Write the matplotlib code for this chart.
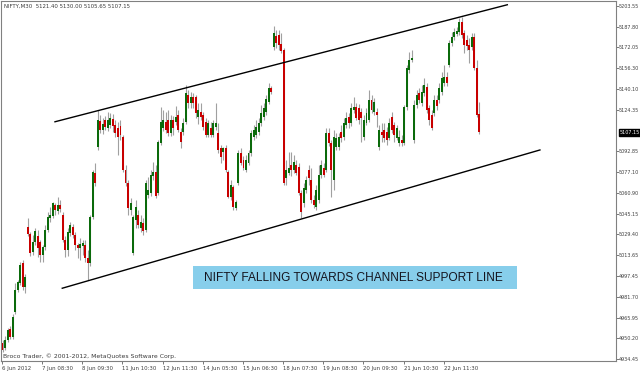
import matplotlib
matplotlib.use("Agg")
import matplotlib.pyplot as plt
from matplotlib.patches import Rectangle

# ---------------- data (NIFTY M30 candles, 6 Jun - 25 Jun 2012) ----------------
opens = [
    4946.7, 4942.8, 4948.9, 4957.3, 4951.2, 4970.3, 4987.1, 4992.4, 5007.6, 4989.3,
    5035.1, 5029.7, 5016.0, 5023.6, 5028.2, 5023.6, 5013.7, 5019.9, 5032.8, 5041.9, 5043.5, 5051.9, 5047.3, 5051.9,
    5044.2, 5025.2, 5017.5, 5030.5, 5035.1, 5029.0, 5021.4, 5019.1, 5020.6, 5021.4, 5011.4, 5007.6, 5042.7, 5076.2,
    5096.1, 5115.9, 5109.0, 5116.6, 5110.5, 5112.8, 5117.4, 5112.8, 5110.5, 5112.1, 5103.7, 5078.5, 5068.6, 5048.0,
    5015.3, 5040.4, 5044.2, 5034.3, 5038.1, 5032.8, 5059.5, 5061.0, 5073.9, 5077.0, 5061.0, 5099.1, 5110.5, 5115.1,
    5116.6, 5106.7, 5116.6, 5115.1, 5120.5, 5107.5, 5107.5, 5115.1, 5135.7, 5129.6, 5134.2, 5134.2, 5118.9, 5122.7,
    5120.5, 5115.1, 5105.2, 5110.5, 5105.2, 5111.3, 5106.7, 5095.3, 5092.2, 5095.3, 5077.0, 5057.9, 5065.6, 5049.6,
    5068.6, 5091.5, 5086.2, 5078.5, 5083.9, 5091.5, 5103.7, 5105.2, 5107.5, 5114.4, 5118.9, 5122.7, 5130.4, 5141.0,
    5172.3, 5180.7, 5181.4, 5174.6, 5170.0, 5072.4, 5076.2, 5082.3, 5078.5, 5082.3, 5080.8, 5061.0, 5053.4, 5063.3,
    5078.5, 5070.9, 5055.7, 5050.3, 5055.7, 5074.7, 5080.0, 5078.5, 5106.7, 5099.1, 5070.9, 5096.1, 5096.1, 5107.5,
    5103.7, 5112.8, 5118.9, 5114.4, 5124.3, 5126.6, 5125.8, 5122.7, 5103.7, 5114.4, 5116.6, 5131.9, 5122.7, 5122.7,
    5096.1, 5107.5, 5109.0, 5107.5, 5102.9, 5118.9, 5112.8, 5102.9, 5099.1, 5101.4, 5099.1, 5126.6, 5154.8, 5162.4,
    5101.4, 5128.1, 5137.2, 5129.6, 5137.2, 5141.8, 5125.8, 5120.5, 5122.0, 5131.9, 5131.9, 5138.0, 5144.8, 5149.4,
    5158.6, 5175.3, 5179.9, 5182.2, 5183.7, 5191.3, 5183.0, 5177.6, 5173.8, 5172.3, 5179.9, 5156.3, 5121.40,
]
highs = [
    4948.9, 4952.0, 4958.1, 4959.6, 4968.8, 4992.4, 4994.7, 5008.4, 5009.9, 4999.3,
    5041.9, 5031.3, 5029.0, 5034.3, 5032.8, 5025.2, 5021.4, 5036.6, 5046.5, 5050.3, 5054.1, 5053.4, 5057.9, 5055.7,
    5046.5, 5028.2, 5034.3, 5038.9, 5037.4, 5031.3, 5022.9, 5026.7, 5025.2, 5025.2, 5017.5, 5044.2, 5078.5, 5083.9,
    5124.3, 5120.5, 5118.2, 5119.7, 5122.7, 5122.0, 5121.2, 5116.6, 5115.1, 5116.6, 5105.2, 5082.3, 5070.9, 5057.2,
    5044.2, 5055.7, 5048.0, 5044.2, 5041.9, 5070.9, 5073.2, 5078.5, 5084.6, 5082.3, 5101.4, 5126.6, 5124.3, 5122.7,
    5124.3, 5120.5, 5119.7, 5127.3, 5124.3, 5110.5, 5118.2, 5143.3, 5139.5, 5138.0, 5137.2, 5135.7, 5129.6, 5129.6,
    5122.7, 5118.2, 5116.6, 5115.1, 5116.6, 5129.6, 5114.4, 5097.6, 5096.1, 5097.6, 5078.5, 5070.9, 5067.1, 5055.7,
    5093.8, 5095.3, 5089.2, 5089.9, 5093.8, 5109.0, 5112.8, 5116.6, 5118.2, 5128.1, 5129.6, 5135.7, 5144.8, 5142.6,
    5188.3, 5185.3, 5185.3, 5183.0, 5171.5, 5086.2, 5092.2, 5092.2, 5089.9, 5086.2, 5083.9, 5063.3, 5068.6, 5073.9,
    5082.3, 5080.0, 5059.5, 5067.1, 5082.3, 5086.2, 5083.9, 5110.5, 5110.5, 5101.4, 5109.0, 5106.7, 5106.7, 5112.8,
    5118.2, 5122.7, 5122.0, 5129.6, 5134.2, 5129.6, 5128.8, 5125.8, 5120.5, 5125.8, 5139.5, 5135.7, 5133.4, 5125.8,
    5112.8, 5114.4, 5114.4, 5111.3, 5118.2, 5122.7, 5115.1, 5112.8, 5109.0, 5105.2, 5128.1, 5158.6, 5168.5, 5170.0,
    5131.9, 5139.5, 5141.0, 5143.3, 5148.7, 5144.8, 5128.1, 5124.3, 5135.7, 5135.7, 5144.8, 5153.2, 5158.6, 5153.2,
    5177.6, 5183.7, 5186.8, 5187.5, 5194.4, 5195.2, 5185.3, 5181.4, 5179.1, 5183.0, 5183.0, 5162.4, 5130.00,
]
lows = [
    4939.8, 4941.3, 4947.4, 4949.7, 4949.7, 4968.8, 4985.5, 4990.9, 4987.1, 4984.8,
    5028.2, 5013.0, 5013.7, 5021.4, 5012.2, 5008.4, 5008.4, 5017.5, 5031.3, 5038.9, 5041.9, 5044.2, 5045.0, 5046.5,
    5023.6, 5012.2, 5013.0, 5028.2, 5026.7, 5017.5, 5011.4, 5009.9, 5013.7, 5008.4, 4994.7, 5005.3, 5041.2, 5066.3,
    5093.8, 5106.7, 5106.0, 5109.0, 5108.3, 5110.5, 5107.5, 5103.7, 5090.0, 5101.4, 5077.0, 5066.3, 5044.2, 5044.2,
    5013.7, 5034.3, 5034.3, 5031.3, 5029.0, 5031.3, 5057.2, 5058.7, 5070.9, 5057.2, 5059.5, 5097.6, 5108.3, 5106.7,
    5104.4, 5104.4, 5105.2, 5112.8, 5107.5, 5095.3, 5105.2, 5113.6, 5125.8, 5125.8, 5125.8, 5118.2, 5113.6, 5116.6,
    5109.0, 5103.7, 5103.7, 5103.7, 5103.7, 5109.0, 5091.5, 5083.9, 5086.2, 5077.0, 5057.2, 5055.7, 5048.0, 5048.0,
    5067.1, 5082.3, 5078.5, 5077.0, 5082.3, 5089.2, 5101.4, 5102.9, 5105.2, 5112.1, 5116.6, 5120.5, 5128.8, 5136.5,
    5170.0, 5171.5, 5170.0, 5167.7, 5067.1, 5067.1, 5074.7, 5073.9, 5076.2, 5074.7, 5059.5, 5041.9, 5050.3, 5061.0,
    5067.1, 5053.4, 5049.6, 5048.0, 5053.4, 5072.4, 5073.2, 5077.0, 5096.8, 5057.9, 5063.3, 5093.8, 5093.8, 5099.9,
    5101.4, 5110.5, 5110.5, 5112.1, 5122.0, 5116.6, 5113.6, 5099.9, 5101.4, 5112.8, 5115.1, 5122.0, 5120.5, 5111.3,
    5093.8, 5099.9, 5099.9, 5097.6, 5101.4, 5106.7, 5099.9, 5101.4, 5096.8, 5096.8, 5097.6, 5124.3, 5152.5, 5160.9,
    5099.1, 5125.8, 5129.6, 5127.3, 5134.9, 5122.0, 5112.8, 5109.0, 5119.7, 5124.3, 5129.6, 5135.7, 5142.6, 5142.6,
    5157.0, 5173.0, 5177.6, 5180.7, 5181.4, 5179.1, 5167.7, 5170.0, 5160.1, 5170.0, 5154.8, 5118.9, 5105.65,
]
closes = [
    4941.3, 4948.9, 4956.6, 4951.2, 4966.5, 4987.1, 4993.2, 5006.1, 4989.3, 4997.0,
    5029.7, 5015.3, 5023.6, 5032.0, 5019.1, 5013.7, 5019.9, 5032.8, 5042.7, 5044.2, 5053.4, 5048.0, 5051.9, 5048.8,
    5025.2, 5017.5, 5031.3, 5036.6, 5029.0, 5021.4, 5019.1, 5022.2, 5022.9, 5011.4, 5007.6, 5042.7, 5077.0, 5068.6,
    5116.6, 5109.0, 5113.6, 5111.3, 5116.6, 5118.2, 5112.1, 5106.7, 5103.7, 5105.2, 5078.5, 5068.6, 5049.6, 5053.4,
    5042.7, 5050.3, 5036.6, 5038.9, 5032.0, 5068.6, 5063.3, 5074.7, 5077.0, 5058.7, 5099.9, 5115.1, 5116.6, 5109.0,
    5106.7, 5116.6, 5110.5, 5118.9, 5109.0, 5099.9, 5114.4, 5137.2, 5129.6, 5134.2, 5129.6, 5122.0, 5124.3, 5118.9,
    5111.3, 5105.2, 5114.4, 5105.2, 5114.4, 5114.4, 5093.8, 5088.4, 5095.3, 5078.5, 5057.9, 5067.1, 5050.3, 5054.1,
    5091.5, 5083.9, 5080.0, 5086.2, 5091.5, 5106.7, 5109.0, 5111.3, 5114.4, 5122.0, 5125.8, 5132.7, 5141.0, 5138.0,
    5183.0, 5175.3, 5173.8, 5169.2, 5068.6, 5078.5, 5080.0, 5078.5, 5084.6, 5076.2, 5061.0, 5046.5, 5064.8, 5070.9,
    5072.4, 5055.7, 5051.9, 5063.3, 5074.7, 5082.3, 5074.7, 5106.7, 5099.1, 5078.5, 5103.7, 5102.9, 5103.7, 5102.9,
    5114.4, 5118.2, 5114.4, 5125.8, 5126.6, 5118.2, 5116.6, 5118.2, 5116.6, 5122.0, 5131.9, 5124.3, 5130.4, 5120.5,
    5109.0, 5105.2, 5102.9, 5101.4, 5114.4, 5109.0, 5105.2, 5110.5, 5103.7, 5099.1, 5126.6, 5156.3, 5162.4, 5163.9,
    5128.1, 5135.7, 5131.9, 5138.0, 5143.3, 5124.3, 5116.6, 5110.5, 5131.9, 5127.3, 5141.0, 5148.7, 5149.4, 5144.8,
    5175.3, 5179.9, 5183.7, 5184.5, 5191.3, 5181.4, 5173.8, 5173.1, 5170.0, 5179.9, 5156.3, 5120.5, 5107.15,
]

time_tick_bars = [0, 16, 32, 48, 64, 80, 96, 112, 128, 144, 160, 176]
time_tick_labels = ["6 Jun 2012", "7 Jun 08:30", "8 Jun 09:30", "11 Jun 10:30",
                    "12 Jun 11:30", "14 Jun 05:30", "15 Jun 06:30", "18 Jun 07:30",
                    "19 Jun 08:30", "20 Jun 09:30", "21 Jun 10:30", "22 Jun 11:30"]
price_ticks = [5203.55, 5187.80, 5172.05, 5156.30, 5140.10, 5124.35, 5092.85,
               5077.10, 5060.90, 5045.15, 5029.40, 5013.65, 4997.45, 4981.70,
               4965.95, 4950.20, 4934.45]
last_price = 5107.15

# channel lines (bar index, price)
upper_x = [20.9, 201.1]
upper_y = [5115.3, 5204.5]
lower_x = [23.8, 214.1]
lower_y = [4988.4, 5093.8]

title_text = "NIFTY,M30  5121.40 5130.00 5105.65 5107.15"
copyright_text = "Broco Trader, \u00a9 2001-2012, MetaQuotes Software Corp."
banner_text = "NIFTY FALLING TOWARDS CHANNEL SUPPORT LINE"

# ---------------- figure ----------------
W, H = 640, 372
fig = plt.figure(figsize=(W / 100, H / 100), dpi=100)
fig.patch.set_facecolor("white")
ax = fig.add_axes([1 / W, 11 / H, 615 / W, 360 / H])
ax.set_facecolor("white")

n = min(len(opens), len(highs), len(lows), len(closes))
idx = list(range(n))
up_col = "#0b6a0b"
dn_col = "#c80000"

ax.vlines(idx, lows[:n], highs[:n], color="#a0a0a0", linewidth=0.8, zorder=2)
bottoms = [min(o, c) for o, c in zip(opens[:n], closes[:n])]
heights = [max(abs(c - o), 0.6) for o, c in zip(opens[:n], closes[:n])]
colors = [up_col if c >= o else dn_col for o, c in zip(opens[:n], closes[:n])]
ax.bar(idx, heights, bottom=bottoms, width=0.78, color=colors, linewidth=0, zorder=3)

ax.plot(upper_x, upper_y, color="black", linewidth=1.0, zorder=4)
ax.plot(lower_x, lower_y, color="black", linewidth=1.0, zorder=4)

ax.set_xlim(-0.6, 244.4)
ax.set_ylim(4932.93, 5207.36)

for s in ax.spines.values():
    s.set_color("#808080")
    s.set_linewidth(0.8)

ax.set_xticks([b - 0.2 for b in time_tick_bars])
ax.set_xticklabels(time_tick_labels, ha="left", family="DejaVu Sans", size=3.9, color="#404040")
ax.tick_params(axis="x", direction="out", length=2.5, width=0.6, color="#606060", pad=1.0)

ax.yaxis.tick_right()
ax.set_yticks(price_ticks)
ax.set_yticklabels([f"{v:.2f}" for v in price_ticks], family="DejaVu Sans", size=3.5, color="#404040")
ax.tick_params(axis="y", direction="out", length=1.8, width=0.6, color="#606060", pad=0.4)

# last price box
ax.text(1.0 + 3.2 / 615, last_price, f"{last_price:.2f}", transform=ax.get_yaxis_transform(),
        ha="left", va="center", family="DejaVu Sans", size=3.5, color="white",
        bbox=dict(boxstyle="square,pad=0.12", facecolor="black", edgecolor="black"),
        zorder=6, clip_on=False)

# header and copyright
fig.text(4 / W, 1 - 6.5 / H, title_text, ha="left", va="center",
         family="DejaVu Sans", size=3.9, color="#3a3a3a")
fig.text(3 / W, 1 - 356.5 / H, copyright_text, ha="left", va="center",
         family="DejaVu Sans", size=4.4, color="#3a3a3a")

# banner
fig.add_artist(Rectangle((193 / W, 1 - 289.3 / H), 324 / W, 23.3 / H,
                         transform=fig.transFigure, facecolor="#87CEEB",
                         edgecolor="none", zorder=5))
fig.text(353 / W, 1 - 277.6 / H, banner_text, ha="center", va="center",
         family="Liberation Sans", size=8.6, color="#15151f", zorder=6)

fig.savefig("out.png", dpi=100, facecolor="white")
